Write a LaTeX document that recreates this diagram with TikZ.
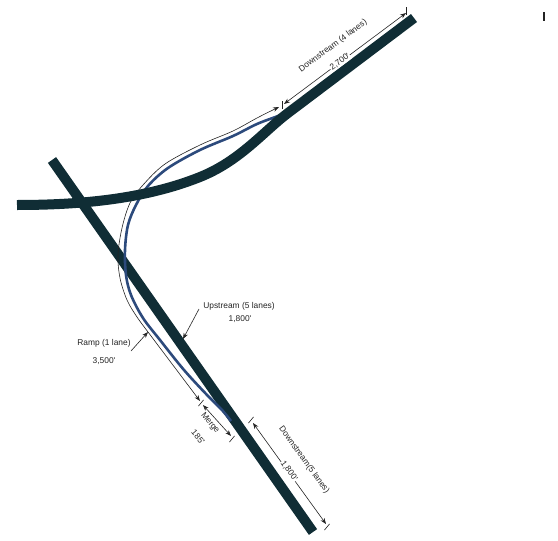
\documentclass[tikz,border=0pt]{standalone}
\usepackage{fontspec}
\setmainfont{Liberation Sans}
\usetikzlibrary{arrows.meta}
\definecolor{road}{RGB}{16,45,53}
\definecolor{rampblue}{RGB}{44,74,124}
\definecolor{txt}{RGB}{35,35,35}
\begin{document}
\begin{tikzpicture}[x=1pt,y=-1pt,
  roadline/.style={draw=road,line width=10pt},
  rampline/.style={draw=rampblue,line width=2.6pt},
  dimline/.style={draw=txt,line width=0.6pt},
  twotip/.style={{Stealth[length=6pt,width=4.5pt]}-{Stealth[length=6pt,width=4.5pt]}},
  onetip/.style={-{Stealth[length=6pt,width=4.5pt]}},
  lbl/.style={font=\fontsize{8.4}{10}\selectfont,text=txt,inner sep=0.6pt}]
\useasboundingbox (0,0) rectangle (558,541);

% main diagonal freeway
\coordinate (dA) at (52,160);
\coordinate (dB) at (313,532);
\draw[roadline] (dA) -- (dB);

% ramp dimension line (black) and ramp (blue)
\draw[dimline,twotip] plot[smooth,tension=0.55] coordinates {(279,107) (257,118) (233,131) (200,145) (165,164) (143,185) (130,203) (122,228) (118,255) (120,278) (127,300) (137,317) (148,332)} -- (200,401);
\draw[rampline] plot[smooth,tension=0.55] coordinates {(292,110) (278,116) (257,124) (233,136) (200,150) (168,168) (148,186) (136,205) (128,225) (125,250) (126,275) (131,295) (143,318) (160,340) (184,370) (208,396) (222,410) (231,421)};

% upper freeway (curved)
\coordinate (hA) at (17,205);
\coordinate (hM) at (200,177);
\coordinate (hK) at (288,113);
\coordinate (hB) at (414,18);
\draw[roadline] (hA) .. controls (90,205) and (150,197) .. (hM)
  .. controls (240,161) and (264,131) .. (hK) -- (hB);

% ticks
\coordinate (tkA) at (282,105);
\coordinate (tkB) at (406,11);
\coordinate (tkC) at (201,403);
\coordinate (tkD) at (232,439);
\coordinate (tkE) at (251,420);
\coordinate (tkF) at (327,527);
\draw[dimline] ([yshift=-4pt]tkA) -- ([yshift=4pt]tkA);
\draw[dimline] ([yshift=-4pt]tkB) -- ([yshift=4pt]tkB);
\foreach \t in {tkC,tkD,tkE,tkF}
  \draw[dimline] ([shift={(2.6,-3.1)}]\t) -- ([shift={(-2.6,3.1)}]\t);

% Downstream (4 lanes)
\coordinate (d4a) at (284,104);
\coordinate (d4b) at (406,13);
\draw[dimline,twotip] (d4a) -- (d4b);
\node[lbl,rotate=36.5] (ds4) at (333,46) {Downstream (4 lanes)};
\node[lbl,rotate=36.5,fill=white] (len4) at (340,62) {2,700\textquotesingle};

% Merge
\coordinate (mga) at (203,405);
\coordinate (mgb) at (231,436);
\draw[dimline,twotip] (mga) -- (mgb);
\node[lbl,rotate=-50] (mg) at (210,423) {Merge};
\node[lbl,rotate=-50] (mglen) at (198,437) {185\textquotesingle};

% Downstream (5 lanes)
\coordinate (d5a) at (253,423);
\coordinate (d5b) at (326,524);
\draw[dimline,twotip] (d5a) -- (d5b);
\node[lbl,rotate=-54] (ds5) at (304,460) {Downstream(5 lanes)};
\node[lbl,rotate=-54,fill=white] (len5) at (289,471) {1,800\textquotesingle};

% Upstream
\node[lbl] (up) at (239,306) {Upstream (5 lanes)};
\node[lbl] (uplen) at (240,319) {1,800\textquotesingle};
\coordinate (upS) at (199,309);
\coordinate (upT) at (183,339);
\draw[dimline,onetip] (upS) -- (upT);

% Ramp
\node[lbl] (rp) at (104,343) {Ramp (1 lane)};
\node[lbl] (rplen) at (104,361) {3,500\textquotesingle};
\coordinate (rpS) at (131,351);
\coordinate (rpT) at (148,332);
\draw[dimline,onetip] (rpS) -- (rpT);

% small mark at top right
\coordinate (mk1) at (544,12);
\coordinate (mk2) at (544,21);
\draw[draw=txt,line width=1.2pt] (mk1) -- (mk2);
\end{tikzpicture}
\end{document}
